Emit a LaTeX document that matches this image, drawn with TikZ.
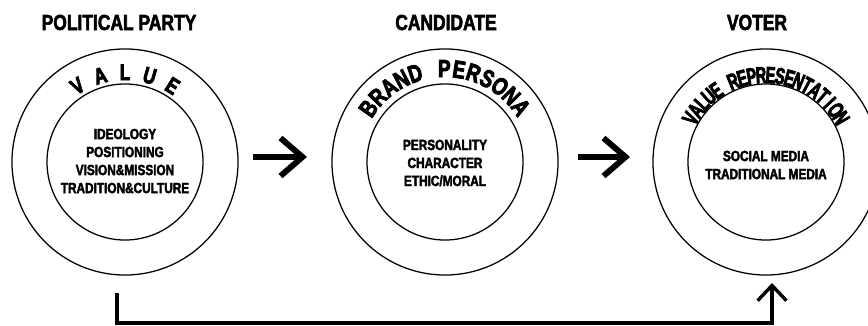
\documentclass[tikz,border=0pt]{standalone}
\usepackage{fontspec}
\newfontfamily\condfont[UprightFont={* Bold},FakeStretch=0.8,FakeBold=2.5]{Liberation Sans}
\newfontfamily\heavyfont[UprightFont={* Bold},FakeStretch=0.76,FakeBold=3.5]{Liberation Sans}
\newfontfamily\slimfont[UprightFont={* Bold},FakeStretch=0.62,FakeBold=3.5]{Liberation Sans}
\usetikzlibrary{arrows.meta}

\begin{document}
\begin{tikzpicture}[x=0.025cm,y=0.025cm,
   ring/.style={circle,draw,line width=0.9pt,minimum size=5.65cm,inner sep=0pt},
   core/.style={circle,draw,line width=0.9pt,minimum size=3.9cm,inner sep=0pt},
   heading/.style={font=\condfont\fontsize{15.5}{15.5}\selectfont,anchor=base},
   items/.style={font=\condfont\fontsize{10.5}{12.8}\selectfont,align=center},
   letter/.style={font=\heavyfont\fontsize{#1}{#1}\selectfont,inner sep=0pt,anchor=base},
   slimletter/.style={font=\slimfont\fontsize{#1}{#1}\selectfont,inner sep=0pt,anchor=base},
   bigarrow/.style={line width=4.2pt,-{Straight Barb[length=0.55cm,width=0.95cm]}},
   backarrow/.style={line width=2.4pt,-{Straight Barb[length=0.38cm,width=0.72cm]}}]

\useasboundingbox (0,0) rectangle (868,325);

\node (party) at (125,163) [ring]{};
\node (partyin) at (125,163) [core]{};
\node (cand) at (445,163) [ring]{};
\node (candin) at (445,163) [core]{};
\node (voter) at (766,163) [ring]{};
\node (voterin) at (766,163) [core]{};

\node (partyhead) at (119,295) [heading]{POLITICAL PARTY};
\node (candhead) at (446,295) [heading]{CANDIDATE};
\node (voterhead) at (757,295) [heading]{VOTER};

\node (partyitems) at (125,164) [items]{IDEOLOGY\\POSITIONING\\VISION\&MISSION\\TRADITION\&CULTURE};
\node (canditems) at (445,162) [items]{PERSONALITY\\CHARACTER\\ETHIC/MORAL};
\node (voteritems) at (766,160) [items]{SOCIAL MEDIA\\TRADITIONAL MEDIA};

% lettering round the rings, one letter at a time
\foreach \ch [count=\i] in {V,A,L,U,E}{
   \pgfmathsetmacro\ang{122-(\i-1)*16}
   \path (party.center) ++(\ang:82) node (value\i) [letter=16,rotate=\ang-90]{\ch};
}
\foreach \ch [count=\i] in {B,R,A,N,D,{},P,E,R,S,O,N,A}{
   \pgfmathsetmacro\ang{145-(\i-1)*9.1}
   \path (cand.center) ++(\ang:85) node (brand\i) [letter=17.5,rotate=\ang-90]{\ch};
}
\foreach \ch [count=\i] in {V,A,L,U,E,{},R,E,P,R,E,S,E,N,T,A,T,I,O,N}{
   \pgfmathsetmacro\ang{150-(\i-1)*6.3}
   \path (voter.center) ++(\ang:79) node (repr\i) [slimletter=16.5,rotate=\ang-90]{\ch};
}

\coordinate (a1s) at (253,168);
\coordinate (a1e) at (307,168);
\coordinate (a2s) at (578,168);
\coordinate (a2e) at (630,168);
\draw [bigarrow] (a1s) -- (a1e);
\draw [bigarrow] (a2s) -- (a2e);

\coordinate (fb) at (117,32);
\coordinate (corner) at (117,2);
\coordinate (tip) at (772,42);
\draw [backarrow] (fb) -- (corner) -| (tip);

\end{tikzpicture}
\end{document}
